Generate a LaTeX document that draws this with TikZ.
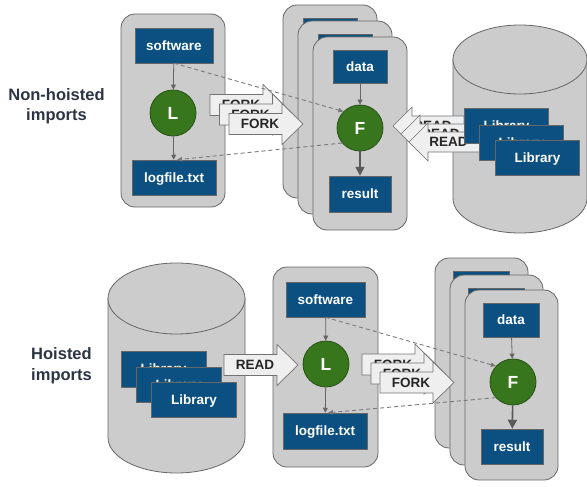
\documentclass[tikz,border=0pt]{standalone}
\usepackage{fontspec}
\setmainfont{Liberation Sans}
\usetikzlibrary{arrows.meta}
\definecolor{boxblue}{HTML}{0B5080}
\definecolor{fgreen}{HTML}{38761D}
\definecolor{cgray}{HTML}{CCCCCC}
\definecolor{egray}{HTML}{666666}
\definecolor{afill}{HTML}{EFEFEF}
\definecolor{lblc}{HTML}{2B3445}
\begin{document}
\begin{tikzpicture}[x=1pt,y=-1pt,
  card/.style={fill=cgray,draw=egray,line width=0.8pt,rounded corners=14pt},
  cylsty/.style={fill=cgray,draw=egray,line width=0.8pt},
  bbox/.style={rectangle,fill=boxblue,draw=egray,line width=0.5pt,text=white,
    font=\fontsize{13.5}{15}\selectfont\bfseries,inner sep=0pt,text height=9.8pt,text depth=0pt},
  plainbox/.style={fill=boxblue,draw=egray,line width=0.5pt},
  circ/.style={circle,fill=fgreen,draw=fgreen!70!black,line width=0.8pt,minimum size=46pt,
    inner sep=0pt,text=white,font=\fontsize{17.5}{19}\selectfont\bfseries,text height=12.5pt,text depth=0pt},
  blk/.style={fill=afill,draw=gray!90!black,line width=0.7pt},
  atext/.style={font=\fontsize{13.5}{15}\selectfont\bfseries,text=black!85,inner sep=0pt,text height=9.8pt,text depth=0pt},
  lbltext/.style={font=\fontsize{16.5}{20}\selectfont\bfseries,text=lblc,anchor=base,inner sep=0pt},
  thinarr/.style={draw=egray,line width=0.8pt,-{Triangle[length=5pt,width=5pt]}},
  thickarr/.style={draw=black!65,line width=1.6pt,-{Triangle[length=9pt,width=9pt]}},
  dashline/.style={draw=gray!95!black,line width=0.9pt,dash pattern=on 4pt off 3pt,-{Triangle[length=5pt,width=4.5pt]}},
  pics/rarr/.style={code={
    \draw[blk] (0,-10.5) -- (53,-10.5) -- (53,-20.5) -- (74,0) -- (53,20.5) -- (53,10.5) -- (0,10.5) -- cycle;
    \node[atext] (-t) at (31,0) {#1};
  }},
  pics/larr/.style={code={
    \draw[blk] (0,0) -- (19,-19) -- (19,-10) -- (71,-10) -- (71,10) -- (19,10) -- (19,19) -- cycle;
    \node[atext] (-t) at (39.5,0) {#1};
  }}
]
\useasboundingbox (0,0) rectangle (587,487);

% ---------- labels ----------
\node[lbltext] (nh1) at (56.5,101) {Non-hoisted};
\node[lbltext] (nh2) at (56.5,121) {imports};
\node[lbltext] (h1) at (61.5,359) {Hoisted};
\node[lbltext] (h2) at (61.5,380) {imports};

% ================= TOP PANEL =================
% L container
\draw[card] (121,14) rectangle (225,207);
% F stack cards
\draw[card] (283,5) rectangle (377,198);
\draw[plainbox] (303,18) rectangle (357,51);
\draw[card] (298,21) rectangle (392,214);
\draw[plainbox] (318,34) rectangle (372,67);
\draw[card] (313,37) rectangle (407,230);
% cylinder
\draw[cylsty] (453,59.5) -- (453,198.5) arc[start angle=180,end angle=360,x radius=67pt,y radius=34.5pt] -- (587,59.5) -- cycle;
\draw[cylsty] (520,59.5) ellipse [x radius=67pt,y radius=34.5pt];

% FORK arrows
\pic (fa1) at (210,105) {rarr=FORK};
\pic (fa2) at (219.5,114.5) {rarr=FORK};
\pic (fa3) at (229,124) {rarr=FORK};
% READ arrows
\pic (ra1) at (393,126) {larr=READ};
\pic (ra2) at (401,134) {larr=READ};
\pic (ra3) at (409,142) {larr=READ};
% libraries
\node[bbox,minimum width=84pt,minimum height=35pt] (lib1) at (506.5,126) {Library};
\node[bbox,minimum width=84pt,minimum height=35pt] (lib2) at (521.5,142.5) {Library};
\node[bbox,minimum width=84pt,minimum height=35pt] (lib3) at (537.5,157.5) {Library};

% L container contents
\node[bbox,minimum width=78pt,minimum height=35pt] (sw1) at (174,45.5) {software};
\node[circ] (L1) at (173,113) {L};
\node[bbox,minimum width=84pt,minimum height=35pt] (lf1) at (174,177.5) {logfile.txt};
\draw[thinarr] (sw1) -- (L1);
\draw[thinarr] (L1) -- (lf1);
% F card contents
\node[bbox,minimum width=54pt,minimum height=33pt] (data1) at (360,66.5) {data};
\node[circ] (F1) at (360,128) {F};
\node[bbox,minimum width=62pt,minimum height=36pt] (res1) at (360,194) {result};
\draw[thinarr] (data1) -- (F1);
\draw[thickarr] (F1) -- (res1);
% dashed
\draw[dashline] (sw1.south) -- (F1.135);
\draw[dashline] (F1.220) -- ([xshift=3pt]lf1.north);

% ================= BOTTOM PANEL =================
% cylinder
\draw[cylsty] (108,298.5) -- (108,437.5) arc[start angle=180,end angle=360,x radius=68.5pt,y radius=35.5pt] -- (245,298.5) -- cycle;
\draw[cylsty] (176.5,298.5) ellipse [x radius=68.5pt,y radius=35.5pt];
% L container
\draw[card] (273,267) rectangle (378,467);
% F stack cards
\draw[card] (435,258) rectangle (528,448);
\draw[plainbox] (453,271) rectangle (509,305);
\draw[card] (450,275) rectangle (543,465);
\draw[plainbox] (468,288) rectangle (524,322);
\draw[card] (465,290) rectangle (558,480);

% libraries
\node[bbox,minimum width=85pt,minimum height=35.5pt] (lib4) at (163.5,369) {Library};
\node[bbox,minimum width=85pt,minimum height=35.5pt] (lib5) at (178.5,384.5) {Library};
\node[bbox,minimum width=85pt,minimum height=35.5pt] (lib6) at (194,399.5) {Library};
% READ arrow
\pic (rb1) at (224,365) {rarr=READ};
% FORK arrows
\pic (fb1) at (362,364.5) {rarr=FORK};
\pic (fb2) at (371,373.5) {rarr=FORK};
\pic (fb3) at (380,382.5) {rarr=FORK};

% L container contents
\node[bbox,minimum width=79pt,minimum height=35pt] (sw2) at (325.5,299.5) {software};
\node[circ] (L2) at (326,364) {L};
\node[bbox,minimum width=84pt,minimum height=36pt] (lf2) at (325,431) {logfile.txt};
\draw[thinarr] (sw2) -- (L2);
\draw[thinarr] (L2) -- (lf2);
% F card contents
\node[bbox,minimum width=56pt,minimum height=34pt] (data2) at (511,320) {data};
\node[circ] (F2) at (513,382) {F};
\node[bbox,minimum width=62pt,minimum height=35pt] (res2) at (512,446.5) {result};
\draw[thinarr] (data2) -- (F2);
\draw[thickarr] (F2) -- (res2);
% dashed
\draw[dashline] (sw2.south) -- (F2.137);
\draw[dashline] (F2.222) -- ([xshift=3pt]lf2.north);
\end{tikzpicture}
\end{document}
